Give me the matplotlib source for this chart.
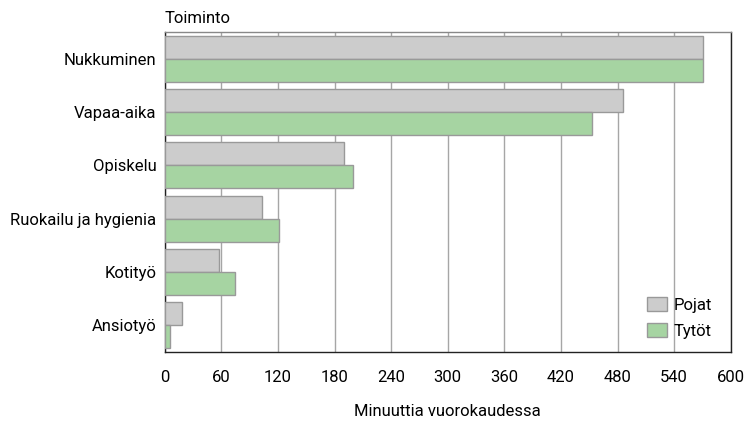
import numpy as np
import matplotlib.pyplot as plt

categories = ['Nukkuminen', 'Vapaa-aika', 'Opiskelu', 'Ruokailu ja hygienia', 'Kotityö', 'Ansiotyö']
pojat = [571, 486, 190, 103, 58, 18]
tytot = [570, 453, 200, 121, 75, 6]
xticks = [0, 60, 120, 180, 240, 300, 360, 420, 480, 540, 600]

plt.rcParams['font.family'] = ['Roboto', 'DejaVu Sans']
fs = 12

fig = plt.figure(figsize=(7.45, 4.26), dpi=100)
ax = fig.add_axes([0.221, 0.174, 0.760, 0.751])

y = np.arange(len(categories))
h = 0.43
ax.barh(y - h / 2, pojat, height=h, color='#cccccc', edgecolor='#999999', linewidth=1, label='Pojat', zorder=3)
ax.barh(y + h / 2, tytot, height=h, color='#a6d4a2', edgecolor='#999999', linewidth=1, label='Tytöt', zorder=3)

ax.set_ylim(len(categories) - 0.5, -0.5)
ax.set_xlim(0, 600)
ax.set_yticks(y)
ax.set_yticklabels(categories, fontsize=fs)
ax.set_xticks(xticks)
ax.set_xticklabels([str(v) for v in xticks], fontsize=fs)
ax.tick_params(axis='x', length=0, pad=13)
ax.tick_params(axis='y', length=0, pad=6)
ax.grid(axis='x', color='#a6a6a6', linewidth=1, zorder=0)

for s in ax.spines.values():
    s.set_color('#222222')
    s.set_linewidth(1)
ax.spines['top'].set_color('#888888')

ax.set_xlabel('Minuuttia vuorokaudessa', fontsize=fs, labelpad=14)
ax.text(0, 1.02, 'Toiminto', transform=ax.transAxes, fontsize=fs, ha='left', va='bottom')

ax.legend(loc='lower right', frameon=False, fontsize=fs, handlelength=1.2, handleheight=0.9,
          handletextpad=0.4, labelspacing=0.6, borderaxespad=0.4, bbox_to_anchor=(0.99, 0.0))

fig.savefig('out.png', dpi=100)
